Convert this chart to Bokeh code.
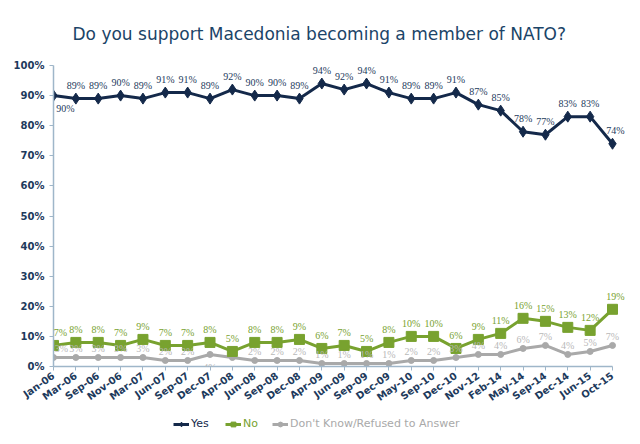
from bokeh.plotting import figure
from bokeh.layouts import column
from bokeh.models import Range1d, FixedTicker, Legend, LegendItem, LabelSet, ColumnDataSource
from bokeh.embed import file_html
from bokeh.resources import INLINE

categories = ["Jan-06", "Mar-06", "Sep-06", "Nov-06", "Mar-07", "Jun-07", "Sep-07", "Dec-07",
              "Apr-08", "Jun-08", "Sep-08", "Dec-08", "Apr-09", "Jun-09", "Sep-09", "Dec-09",
              "May-10", "Sep-10", "Dec-10", "Nov-12", "Feb-14", "May-14", "Sep-14", "Dec-14",
              "Jun-15", "Oct-15"]
yes_vals = [90, 89, 89, 90, 89, 91, 91, 89, 92, 90, 90, 89, 94, 92, 94, 91, 89, 89, 91, 87, 85, 78, 77, 83, 83, 74]
no_vals = [7, 8, 8, 7, 9, 7, 7, 8, 5, 8, 8, 9, 6, 7, 5, 8, 10, 10, 6, 9, 11, 16, 15, 13, 12, 19]
dk_vals = [3, 3, 3, 3, 3, 2, 2, 4, 3, 2, 2, 2, 1, 1, 1, 1, 2, 2, 3, 4, 4, 6, 7, 4, 5, 7]
y_ticks = [0, 10, 20, 30, 40, 50, 60, 70, 80, 90, 100]
series_names = ["Yes", "No", "Don't Know/Refused to Answer"]
title_text = "Do you support Macedonia becoming a member of NATO?"

YES_C = "#14294a"
NO_C = "#78a22f"
DK_C = "#a9a9a9"
FONT = "DejaVu Sans"

xs = list(range(len(categories)))
n_last = len(categories) - 1

p = figure(frame_width=573, frame_height=301, output_backend="svg", toolbar_location=None,
           x_range=Range1d(0, n_last + 0.626), y_range=Range1d(0, 100),
           min_border_left=53, min_border_right=14, min_border_top=30, min_border_bottom=46)
p.outline_line_color = None
p.xgrid.visible = False
p.ygrid.visible = False
p.background_fill_color = "white"
p.border_fill_color = "white"

p.title.text = title_text
p.title.align = "left"
p.title.offset = 19
p.title.text_font = FONT
p.title.text_font_size = "17px"
p.title.text_font_style = "normal"
p.title.text_color = "#1b4468"
p.title.standoff = 43

# axes
p.xaxis.ticker = FixedTicker(ticks=xs)
p.xaxis.bounds = (0, n_last)
p.xaxis.major_label_overrides = {i: c for i, c in enumerate(categories)}
p.xaxis.major_label_orientation = 0.62
p.yaxis.ticker = FixedTicker(ticks=y_ticks)
p.yaxis.major_label_overrides = {v: f"{v}%" for v in y_ticks}
for ax in (p.xaxis[0], p.yaxis[0]):
    ax.axis_line_color = "#9fb6c9"
    ax.axis_line_width = 1.5
    ax.major_tick_line_color = "#9fb6c9"
    ax.minor_tick_line_color = None
    ax.major_label_text_color = "#1d3a5c"
    ax.major_label_text_font = FONT
    ax.major_label_text_font_size = "10px"
    ax.major_label_text_font_style = "bold"
p.xaxis.major_tick_in = 0
p.xaxis.major_tick_out = 4
p.yaxis.major_tick_in = 0
p.yaxis.major_tick_out = 4
p.xaxis.major_label_standoff = 4

# series
p.line(xs, dk_vals, line_color=DK_C, line_width=3)
p.scatter(xs, dk_vals, marker="circle", size=6, fill_color=DK_C, line_color=DK_C)
p.line(xs, no_vals, line_color=NO_C, line_width=3)
p.scatter(xs, no_vals, marker="square", size=10, fill_color=NO_C, line_color=NO_C)
p.line(xs, yes_vals, line_color=YES_C, line_width=3)
p.scatter(xs, yes_vals, marker="diamond", size=11, fill_color=YES_C, line_color=YES_C)

# data labels (LabelSet: positive y_offset = up)
yes_dy = [-13] + [13] * n_last
yes_dx = [12] + [0] * n_last
yes_dx[-1] = 3
dk_dy = [9] * len(xs)
dk_dy[7] = -13
dk_dy[8] = -13
dk_dx = [0] * len(xs)
dk_dx[0] = 8
no_dx = [0] * len(xs)
no_dx[0] = 7
no_dx[-1] = 3

def add_labels(vals, dx, dy, color):
    src = ColumnDataSource(dict(x=xs, y=vals, t=[f"{v}%" for v in vals], dx=dx, dy=dy))
    p.add_layout(LabelSet(x="x", y="y", text="t", x_offset="dx", y_offset="dy", source=src,
                          text_align="center", text_baseline="middle", text_color=color,
                          text_font=FONT, text_font_size="10px"))

add_labels(yes_vals, yes_dx, yes_dy, "#1d3a5c")
add_labels(no_vals, no_dx, [13] * len(xs), NO_C)
add_labels(dk_vals, dk_dx, dk_dy, "#b8b8b8")

# legend strip: a small figure whose frame holds only the legend
lf = figure(width=640, height=28, output_backend="svg", toolbar_location=None,
            min_border=0, x_range=Range1d(-100, -50), y_range=Range1d(-100, -50))
lf.axis.visible = False
lf.grid.visible = False
lf.outline_line_color = None
lf.border_fill_color = "white"

styles = [
    (series_names[0], yes_vals, YES_C, "diamond", 9, 120),
    (series_names[1], no_vals, NO_C, "square", 8, 172),
    (series_names[2], dk_vals, DK_C, "circle", 6, 219),
]
for name, vals, col, mk, sz, lx in styles:
    # same series data; it lies outside this strip's ranges, only the legend swatch shows
    rl = lf.line(xs, vals, line_color=col, line_width=3)
    rm = lf.scatter(xs, vals, marker=mk, size=sz, fill_color=col, line_color=col)
    lg = Legend(items=[LegendItem(label=name, renderers=[rl, rm])], location=(lx, 10),
                orientation="horizontal", padding=0, margin=0, spacing=0,
                glyph_width=16, glyph_height=12, label_standoff=2, label_height=12,
                label_text_color=col, label_text_font=FONT, label_text_font_size="11px",
                label_text_baseline="middle",
                border_line_alpha=0, background_fill_alpha=0)
    lf.add_layout(lg, "center")

layout = column(p, lf, spacing=0)
open("out.html", "w").write(file_html(layout, INLINE))
